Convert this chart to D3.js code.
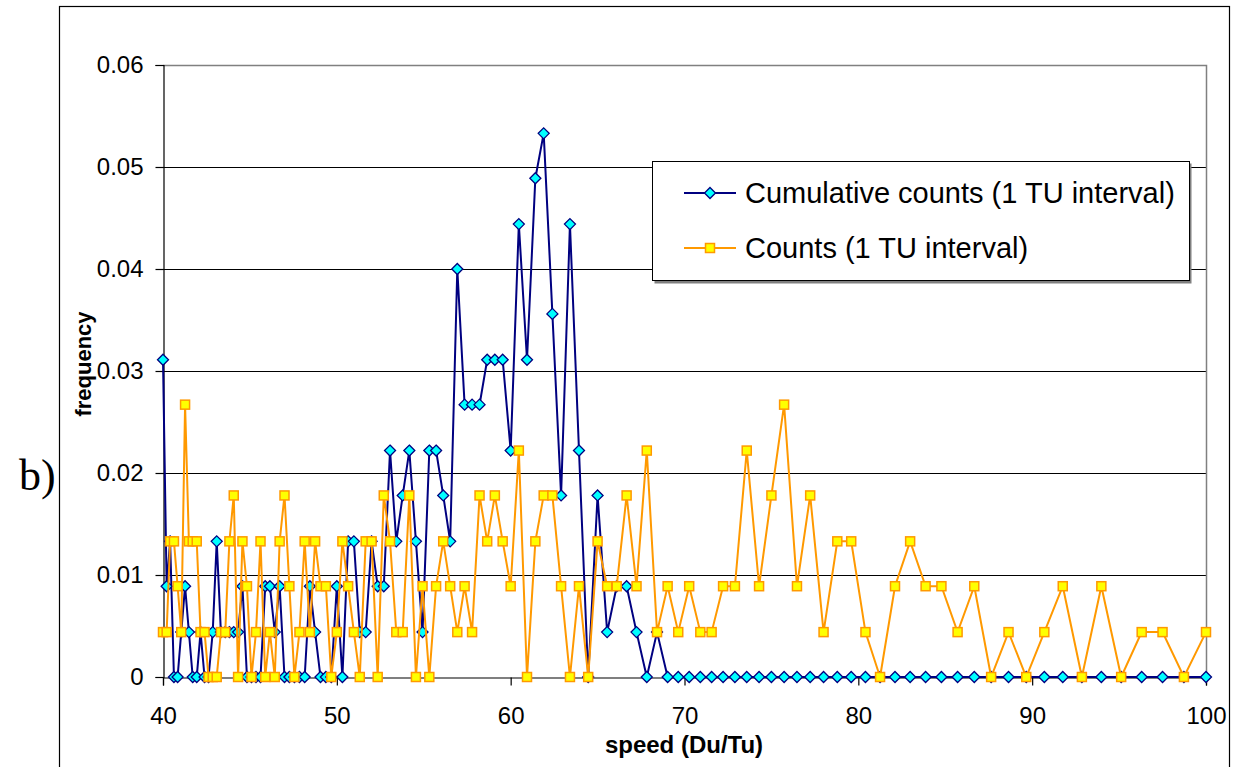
<!DOCTYPE html>
<html><head><meta charset="utf-8">
<script src="https://cdn.jsdelivr.net/npm/d3@7"></script>
<style>body{margin:0;background:#fff;} svg{display:block;}</style>
</head><body><svg id="c" width="1234" height="767"></svg>
<script>
// speed (Du/Tu) sample positions
const speeds = [40.00,40.21,40.41,40.63,40.84,41.05,41.27,41.49,41.71,41.94,
42.16,42.39,42.62,42.86,43.09,43.33,43.58,43.82,44.07,44.32,
44.57,44.83,45.09,45.35,45.61,45.88,46.15,46.43,46.71,46.99,
47.27,47.56,47.85,48.15,48.45,48.75,49.06,49.37,49.68,50.00,
50.32,50.65,50.98,51.32,51.66,52.00,52.35,52.70,53.06,53.42,
53.79,54.17,54.55,54.93,55.32,55.71,56.12,56.52,56.93,57.35,
57.78,58.21,58.65,59.09,59.54,60.00,60.47,60.94,61.42,61.90,
62.40,62.90,63.41,63.93,64.46,65.00,65.55,66.10,66.67,67.24,
67.83,68.42,69.03,69.64,70.27,70.91,71.56,72.22,72.90,73.58,
74.29,75.00,75.73,76.47,77.23,78.00,78.79,79.59,80.41,81.25,
82.11,82.98,83.87,84.78,85.71,86.67,87.64,88.64,89.66,90.70,
91.76,92.86,93.98,95.12,96.30,97.50,98.73,100.00];

const cumulative = [0.0311,0.0089,0.0133,0,0,0.0044,0.0089,0.0044,0,0,
0.0044,0,0,0.0044,0.0133,0.0044,0.0044,0.0044,0.0044,0.0044,
0.0089,0,0,0,0,0.0089,0.0089,0.0044,0.0089,0,
0,0,0,0,0.0089,0.0044,0,0,0,0.0089,
0,0.0133,0.0133,0.0044,0.0044,0.0133,0.0089,0.0089,0.0222,0.0133,
0.0178,0.0222,0.0133,0.0044,0.0222,0.0222,0.0178,0.0133,0.0400,0.0267,
0.0267,0.0267,0.0311,0.0311,0.0311,0.0222,0.0444,0.0311,0.0489,0.0533,
0.0356,0.0178,0.0444,0.0222,0,0.0178,0.0044,0.0089,0.0089,0.0044,
0,0.0044,0,0,0,0,0,0,0,0,
0,0,0,0,0,0,0,0,0,0,
0,0,0,0,0,0,0,0,0,0,
0,0,0,0,0,0,0,0];

const counts = [0.0044,0.0044,0.0133,0.0133,0.0089,0.0044,0.0267,0.0133,0.0133,0.0133,
0.0044,0.0044,0,0,0,0.0044,0.0044,0.0133,0.0178,0,
0.0133,0.0089,0,0.0044,0.0133,0,0.0044,0,0.0133,0.0178,
0.0089,0,0.0044,0.0133,0.0044,0.0133,0.0089,0.0089,0,0.0044,
0.0133,0.0089,0.0044,0,0.0133,0.0133,0,0.0178,0.0133,0.0044,
0.0044,0.0178,0,0.0089,0,0.0089,0.0133,0.0089,0.0044,0.0089,
0.0044,0.0178,0.0133,0.0178,0.0133,0.0089,0.0222,0,0.0133,0.0178,
0.0178,0.0089,0,0.0089,0,0.0133,0.0089,0.0089,0.0178,0.0089,
0.0222,0.0044,0.0089,0.0044,0.0089,0.0044,0.0044,0.0089,0.0089,0.0222,
0.0089,0.0178,0.0267,0.0089,0.0178,0.0044,0.0133,0.0133,0.0044,0,
0.0089,0.0133,0.0089,0.0089,0.0044,0.0089,0,0.0044,0,0.0044,
0.0089,0,0.0089,0,0.0044,0.0044,0,0.0044];

const yTicks = [0,0.01,0.02,0.03,0.04,0.05,0.06];
const xTicks = [40,50,60,70,80,90,100];
const seriesNames = ["Cumulative counts (1 TU interval)","Counts (1 TU interval)"];
const xTitle = "speed (Du/Tu)";
const yTitle = "frequency";
const panelLabel = "b)";

const svg = d3.select("#c");
const L=163, R=1206, T=65, B=677;
const x = d3.scaleLinear().domain([40,100]).range([L,R]);
const y = d3.scaleLinear().domain([0,0.06]).range([B,T]);
const sans = "'Liberation Sans', Arial, sans-serif";

// outer chart border
svg.append("rect").attr("x",59.5).attr("y",6.5).attr("width",1170).attr("height",800)
  .attr("fill","none").attr("stroke","#000").attr("stroke-width",1.2);

// gridlines
svg.append("g").selectAll("line").data(yTicks.slice(1)).join("line")
  .attr("x1",L).attr("x2",R)
  .attr("y1",d=>Math.round(y(d))+0.5).attr("y2",d=>Math.round(y(d))+0.5)
  .attr("stroke","#000").attr("stroke-width",1);

// plot border top/right (gray)
svg.append("path").attr("d",`M${L},${T+0.5}H${R+0.5}V${B}`)
  .attr("fill","none").attr("stroke","#808080").attr("stroke-width",1.5);

// axes
const yAxis = svg.append("g").attr("transform",`translate(${L+0.5},0)`)
  .call(d3.axisLeft(y).tickValues(yTicks).tickSize(8).tickPadding(12)
    .tickFormat(d=>d===0?"0":d3.format(".2f")(d)));
const xAxis = svg.append("g").attr("transform",`translate(0,${B+0.5})`)
  .call(d3.axisBottom(x).tickValues(xTicks).tickSize(8).tickPadding(21).tickFormat(d3.format("d")));
[yAxis,xAxis].forEach(g=>{
  g.select(".domain").attr("stroke","#000").attr("stroke-width",1.2);
  g.selectAll(".tick line").attr("stroke","#000").attr("stroke-width",1.2);
  g.selectAll(".tick text").attr("font-family",sans).attr("font-size",24).attr("fill","#000");
});

// series
const line = d3.line().x(d=>x(d[0])).y(d=>y(d[1]));
const cumData = speeds.map((s,i)=>[s,cumulative[i]]);
const cntData = speeds.map((s,i)=>[s,counts[i]]);
const diamond = "M0,-5.5L5.5,0L0,5.5L-5.5,0Z";

svg.append("path").datum(cumData).attr("d",line)
  .attr("fill","none").attr("stroke","#000080").attr("stroke-width",2);
svg.append("g").selectAll("path").data(cumData).join("path")
  .attr("d",diamond).attr("transform",d=>`translate(${x(d[0])},${y(d[1])})`)
  .attr("fill","#00FFFF").attr("stroke","#000080").attr("stroke-width",1.3);

svg.append("path").datum(cntData).attr("d",line)
  .attr("fill","none").attr("stroke","#FF9900").attr("stroke-width",2);
svg.append("g").selectAll("rect").data(cntData).join("rect")
  .attr("x",d=>x(d[0])-4.5).attr("y",d=>y(d[1])-4.5).attr("width",9).attr("height",9)
  .attr("fill","#FFFF00").attr("stroke","#FF9900").attr("stroke-width",1.5);

// axis titles
svg.append("text").attr("x",684).attr("y",753).attr("text-anchor","middle")
  .attr("font-family",sans).attr("font-weight","bold").attr("font-size",24).text(xTitle);
svg.append("text").attr("transform","translate(91,364) rotate(-90)").attr("text-anchor","middle")
  .attr("font-family",sans).attr("font-weight","bold").attr("font-size",22).text(yTitle);
svg.append("text").attr("x",19).attr("y",490)
  .attr("font-family","'Liberation Serif','Times New Roman',serif").attr("font-size",44).text(panelLabel);

// legend
const lg = svg.append("g");
lg.append("rect").attr("x",654.5).attr("y",163.5).attr("width",537).attr("height",120).attr("fill","#808080");
lg.append("rect").attr("x",652.5).attr("y",161.5).attr("width",537).attr("height",119)
  .attr("fill","#fff").attr("stroke","#000").attr("stroke-width",1);
const items = [
  {name:seriesNames[0], cy:193, stroke:"#000080", fill:"#00FFFF", shape:"d"},
  {name:seriesNames[1], cy:248, stroke:"#FF9900", fill:"#FFFF00", shape:"s"}
];
items.forEach(it=>{
  lg.append("line").attr("x1",684).attr("x2",736).attr("y1",it.cy).attr("y2",it.cy)
    .attr("stroke",it.stroke).attr("stroke-width",2);
  if(it.shape==="d"){
    lg.append("path").attr("d",diamond).attr("transform",`translate(710,${it.cy})`)
      .attr("fill",it.fill).attr("stroke",it.stroke).attr("stroke-width",1.3);
  } else {
    lg.append("rect").attr("x",705.5).attr("y",it.cy-4.5).attr("width",9).attr("height",9)
      .attr("fill",it.fill).attr("stroke",it.stroke).attr("stroke-width",1.5);
  }
  lg.append("text").attr("x",745).attr("y",it.cy+10).attr("font-family",sans)
    .attr("font-size",29).attr("fill","#000").text(it.name);
});
</script></body></html>
